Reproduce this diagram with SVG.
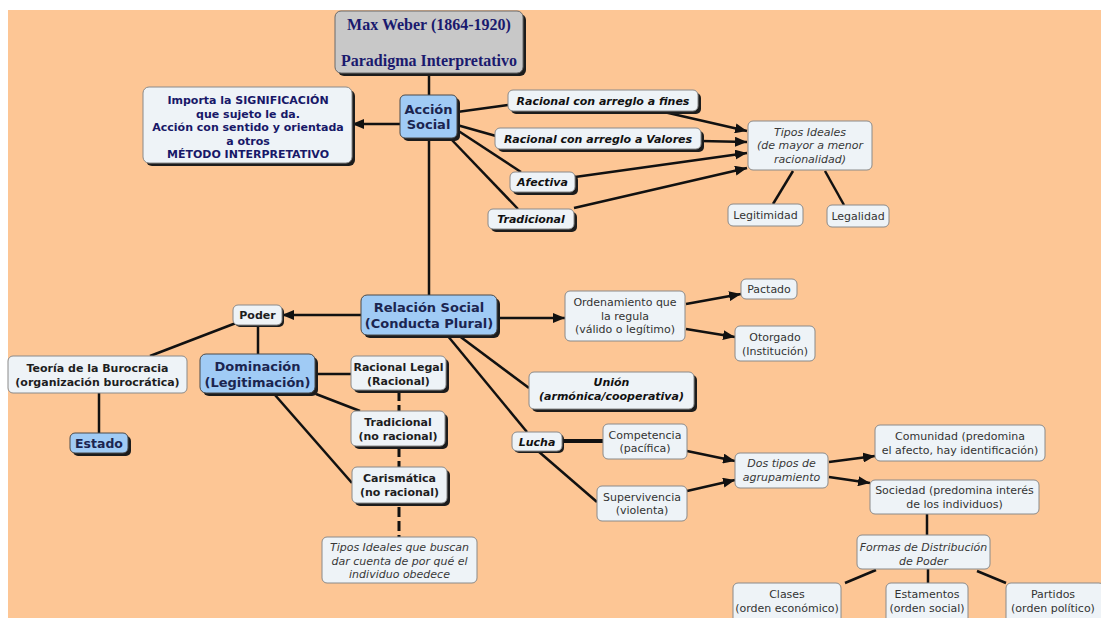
<svg xmlns="http://www.w3.org/2000/svg" width="1101" height="618" viewBox="0 0 1101 618">
<style>
.bg{fill:#FDC695}
.n{fill:#EEF3F7;stroke:#8A8A8A;stroke-width:1}
.bl{fill:#A0CBF5;stroke:#4A4A4A;stroke-width:1}
.gr{fill:#C8C8C8;stroke:#6A6A6A;stroke-width:1}
.sh{fill:#1C1C1C}
text{font-family:"DejaVu Sans","Verdana",sans-serif;font-size:11px;text-anchor:middle;fill:#333}
.b{font-weight:bold;fill:#1E1E1E}
.i{font-style:italic;fill:#383838}
.bi{font-weight:bold;font-style:italic;fill:#111}
.nv{font-weight:bold;fill:#181868}
.bt{font-weight:bold;font-size:13px;fill:#1B2550}
.ttl{font-family:"Liberation Serif","Times New Roman",serif;font-weight:bold;font-size:16px;fill:#1A1A6E}
.c line{stroke:#111;stroke-width:2.5;fill:none}
.c .a{marker-end:url(#ah)}
.c .d{stroke-dasharray:10 4;stroke-width:3}
.c .k{stroke-width:4}
</style>
<defs>
<marker id="ah" viewBox="0 0 12 10" refX="12" refY="5" markerWidth="12" markerHeight="10" markerUnits="userSpaceOnUse" orient="auto">
<path d="M0,0 L12,5 L0,10 z" fill="#111"/>
</marker>
</defs>
<rect class="bg" x="8" y="10" width="1093" height="608"/>

<g id="connectors" class="c">
<line x1="429" y1="73" x2="429" y2="95"/>
<line x1="429" y1="138" x2="429" y2="295"/>
<line class="a" x1="400" y1="124" x2="352" y2="124"/>
<line x1="457" y1="112" x2="508" y2="105"/>
<line x1="457" y1="125" x2="496" y2="136"/>
<line x1="457" y1="130" x2="521" y2="172"/>
<line x1="450" y1="138" x2="518" y2="209"/>
<line class="a" x1="664" y1="112" x2="747" y2="131"/>
<line class="a" x1="701" y1="141" x2="747" y2="142"/>
<line class="a" x1="575" y1="177" x2="747" y2="153"/>
<line class="a" x1="574" y1="208" x2="747" y2="168"/>
<line x1="793" y1="171" x2="773" y2="204"/>
<line x1="825" y1="171" x2="844" y2="205"/>
<line class="a" x1="361" y1="315" x2="282" y2="315"/>
<line x1="236" y1="323" x2="150" y2="356"/>
<line x1="99" y1="393" x2="99" y2="433"/>
<line x1="258" y1="325" x2="258" y2="354"/>
<line x1="315" y1="374" x2="351" y2="374"/>
<line x1="316" y1="394" x2="360" y2="411"/>
<line x1="275" y1="395" x2="352" y2="483"/>
<line class="d" x1="399" y1="391" x2="399" y2="411"/>
<line class="d" x1="399" y1="447" x2="399" y2="467"/>
<line class="d" x1="399" y1="507" x2="399" y2="537"/>
<line class="a" x1="497" y1="318" x2="565" y2="318"/>
<line class="a" x1="686" y1="304" x2="741" y2="294"/>
<line class="a" x1="686" y1="329" x2="735" y2="337"/>
<line x1="458" y1="335" x2="529" y2="388"/>
<line x1="447" y1="335" x2="527" y2="432"/>
<line class="k" x1="562" y1="441" x2="603" y2="441"/>
<line x1="538" y1="451" x2="597" y2="502"/>
<line class="a" x1="687" y1="451" x2="735" y2="461"/>
<line class="a" x1="687" y1="491" x2="735" y2="480"/>
<line class="a" x1="829" y1="462" x2="875" y2="456"/>
<line class="a" x1="829" y1="477" x2="870" y2="483"/>
<line x1="927" y1="514" x2="927" y2="535"/>
<line x1="876" y1="570" x2="845" y2="583"/>
<line x1="928" y1="569" x2="928" y2="583"/>
<line x1="977" y1="571" x2="1006" y2="583"/>
</g>

<g id="title">
<rect class="sh" x="338" y="14" width="188" height="62" rx="6"/>
<rect class="gr" x="335" y="11" width="188" height="62" rx="6"/>
<text class="ttl" x="429" y="30">Max Weber (1864-1920)</text>
<text class="ttl" x="429" y="66">Paradigma Interpretativo</text>
</g>

<g id="accion-social">
<rect class="sh" x="403" y="98" width="57" height="43" rx="5"/>
<rect class="bl" x="400" y="95" width="57" height="43" rx="5"/>
<text class="bt" x="428.5" y="114">Acción</text>
<text class="bt" x="428.5" y="129">Social</text>
</g>

<g id="importa">
<rect class="sh" x="146" y="90" width="209" height="76" rx="6"/>
<rect class="n" x="143" y="87" width="209" height="76" rx="6"/>
<text class="nv" x="248" y="104">Importa la SIGNIFICACIÓN</text>
<text class="nv" x="248" y="117.5">que sujeto le da.</text>
<text class="nv" x="248" y="131">Acción con sentido y orientada</text>
<text class="nv" x="248" y="144.5">a otros</text>
<text class="nv" x="248" y="158">MÉTODO INTERPRETATIVO</text>
</g>

<g id="racional-fines">
<rect class="sh" x="511" y="93" width="190" height="21" rx="5"/>
<rect class="n" x="508" y="90" width="190" height="21" rx="5"/>
<text class="bi" x="603" y="104.5">Racional con arreglo a fines</text>
</g>

<g id="racional-valores">
<rect class="sh" x="498" y="131" width="206" height="21" rx="5"/>
<rect class="n" x="495" y="128" width="206" height="21" rx="5"/>
<text class="bi" x="598" y="142.5">Racional con arreglo a Valores</text>
</g>

<g id="afectiva">
<rect class="sh" x="513" y="175" width="65" height="20" rx="5"/>
<rect class="n" x="510" y="172" width="65" height="20" rx="5"/>
<text class="bi" x="542.5" y="186">Afectiva</text>
</g>

<g id="tradicional-accion">
<rect class="sh" x="491" y="212" width="86" height="20" rx="5"/>
<rect class="n" x="488" y="209" width="86" height="20" rx="5"/>
<text class="bi" x="531" y="223">Tradicional</text>
</g>

<g id="tipos-ideales">
<rect class="n" x="748" y="121" width="124" height="49" rx="5"/>
<text class="i" x="810" y="136">Tipos Ideales</text>
<text class="i" x="810" y="149">(de mayor a menor</text>
<text class="i" x="810" y="163">racionalidad)</text>
</g>

<g id="legitimidad">
<rect class="n" x="728" y="204" width="75" height="22" rx="5"/>
<text x="765.5" y="219">Legitimidad</text>
</g>

<g id="legalidad">
<rect class="n" x="827" y="205" width="62" height="22" rx="5"/>
<text x="858" y="220">Legalidad</text>
</g>

<g id="relacion-social">
<rect class="sh" x="364" y="298" width="136" height="40" rx="6"/>
<rect class="bl" x="361" y="295" width="136" height="40" rx="6"/>
<text class="bt" x="429" y="311.5">Relación Social</text>
<text class="bt" x="429" y="327.5">(Conducta Plural)</text>
</g>

<g id="poder">
<rect class="sh" x="235" y="307" width="49" height="20" rx="5"/>
<rect class="n" x="233" y="305" width="49" height="20" rx="5"/>
<text class="b" x="257.5" y="319">Poder</text>
</g>

<g id="teoria-burocracia">
<rect class="n" x="8" y="356" width="179" height="37" rx="5"/>
<text class="b" x="97.5" y="371.5">Teoría de la Burocracia</text>
<text class="b" x="97.5" y="386">(organización burocrática)</text>
</g>

<g id="estado">
<rect class="sh" x="73" y="436" width="58" height="20" rx="5"/>
<rect class="bl" x="70" y="433" width="58" height="20" rx="5"/>
<text class="bt" x="99" y="447.5" style="font-size:12.5px">Estado</text>
</g>

<g id="dominacion">
<rect class="sh" x="203" y="357" width="115" height="39" rx="6"/>
<rect class="bl" x="200" y="354" width="115" height="39" rx="6"/>
<text class="bt" x="257.5" y="370.5">Dominación</text>
<text class="bt" x="257.5" y="386.5">(Legitimación)</text>
</g>

<g id="racional-legal">
<rect class="sh" x="354" y="359" width="95" height="34" rx="5"/>
<rect class="n" x="351" y="356" width="95" height="34" rx="5"/>
<text class="b" x="398.5" y="371">Racional Legal</text>
<text class="b" x="398.5" y="385">(Racional)</text>
</g>

<g id="tradicional-dominacion">
<rect class="sh" x="354" y="414" width="94" height="35" rx="5"/>
<rect class="n" x="351" y="411" width="94" height="35" rx="5"/>
<text class="b" x="398" y="426">Tradicional</text>
<text class="b" x="398" y="440">(no racional)</text>
</g>

<g id="carismatica">
<rect class="sh" x="355" y="470" width="95" height="36" rx="5"/>
<rect class="n" x="352" y="467" width="95" height="36" rx="5"/>
<text class="b" x="399.5" y="481.5">Carismática</text>
<text class="b" x="399.5" y="496">(no racional)</text>
</g>

<g id="tipos-ideales-obedece">
<rect class="n" x="322" y="537" width="155" height="46" rx="5"/>
<text class="i" x="399.5" y="551">Tipos Ideales que buscan</text>
<text class="i" x="399.5" y="564.5">dar cuenta de por qué el</text>
<text class="i" x="399.5" y="578">individuo obedece</text>
</g>

<g id="ordenamiento">
<rect class="n" x="565" y="291" width="120" height="50" rx="5"/>
<text x="625" y="306">Ordenamiento que</text>
<text x="625" y="319.5">la regula</text>
<text x="625" y="333">(válido o legítimo)</text>
</g>

<g id="pactado">
<rect class="n" x="741" y="279" width="56" height="20" rx="5"/>
<text x="769" y="293">Pactado</text>
</g>

<g id="otorgado">
<rect class="n" x="735" y="326" width="80" height="35" rx="5"/>
<text x="775" y="341">Otorgado</text>
<text x="775" y="355">(Institución)</text>
</g>

<g id="union">
<rect class="sh" x="532" y="375" width="165" height="37" rx="5"/>
<rect class="n" x="529" y="372" width="165" height="37" rx="5"/>
<text class="bi" x="611.5" y="386">Unión</text>
<text class="bi" x="611.5" y="400">(armónica/cooperativa)</text>
</g>

<g id="lucha">
<rect class="sh" x="514" y="434" width="50" height="19" rx="5"/>
<rect class="n" x="512" y="432" width="50" height="19" rx="5"/>
<text class="bi" x="537" y="445.5">Lucha</text>
</g>

<g id="competencia">
<rect class="n" x="603" y="424" width="84" height="35" rx="5"/>
<text x="645" y="438.5">Competencia</text>
<text x="645" y="452">(pacífica)</text>
</g>

<g id="supervivencia">
<rect class="n" x="597" y="486" width="90" height="35" rx="5"/>
<text x="642" y="500.5">Supervivencia</text>
<text x="642" y="514">(violenta)</text>
</g>

<g id="dos-tipos">
<rect class="n" x="735" y="453" width="93" height="35" rx="5"/>
<text class="i" x="781.5" y="467">Dos tipos de</text>
<text class="i" x="781.5" y="481">agrupamiento</text>
</g>

<g id="comunidad">
<rect class="n" x="875" y="425" width="170" height="36" rx="5"/>
<text x="960" y="439.5">Comunidad (predomina</text>
<text x="960" y="453.5">el afecto, hay identificación)</text>
</g>

<g id="sociedad">
<rect class="n" x="870" y="480" width="169" height="34" rx="5"/>
<text x="954.5" y="494">Sociedad (predomina interés</text>
<text x="954.5" y="508">de los individuos)</text>
</g>

<g id="formas">
<rect class="n" x="857" y="535" width="133" height="34" rx="5"/>
<text class="i" x="923.5" y="551">Formas de Distribución</text>
<text class="i" x="923.5" y="564.5">de Poder</text>
</g>

<g id="clases">
<rect class="n" x="733" y="583" width="108" height="40" rx="5"/>
<text x="787" y="598">Clases</text>
<text x="787" y="612">(orden económico)</text>
</g>

<g id="estamentos">
<rect class="n" x="886" y="583" width="82" height="40" rx="5"/>
<text x="927" y="597.5">Estamentos</text>
<text x="927" y="611.5">(orden social)</text>
</g>

<g id="partidos">
<rect class="n" x="1006" y="583" width="98" height="40" rx="5"/>
<text x="1053" y="597.5">Partidos</text>
<text x="1053" y="611.5">(orden político)</text>
</g>
</svg>
